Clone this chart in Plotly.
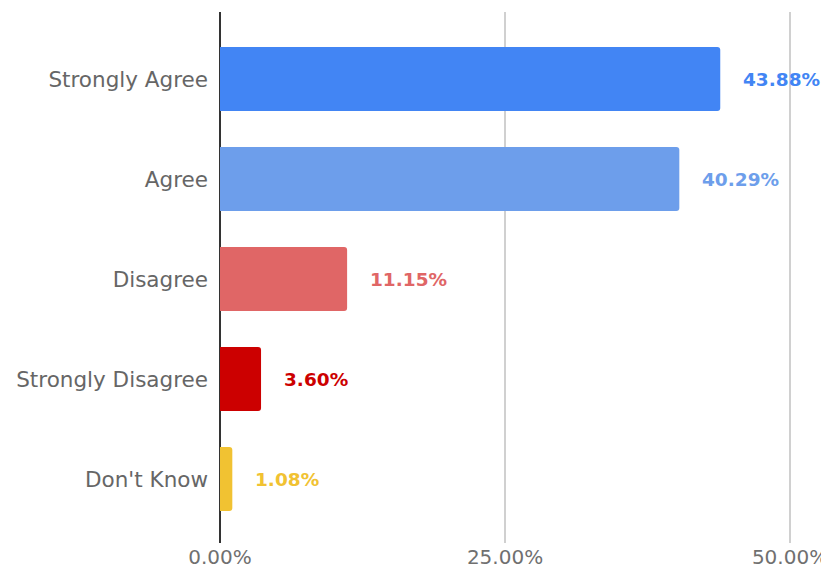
import plotly.graph_objects as go

categories = ["Strongly Agree", "Agree", "Disagree", "Strongly Disagree", "Don't Know"]
values = [43.88, 40.29, 11.15, 3.60, 1.08]
colors = ["#4285F4", "#6D9EEB", "#E06666", "#CC0000", "#F1C232"]
tick_vals = [0, 25, 50]
tick_text = ["0.00%", "25.00%", "50.00%"]

FONT = "DejaVu Sans"

fig = go.Figure()
fig.add_trace(go.Bar(
    x=values, y=categories, orientation="h",
    marker=dict(color=colors, cornerradius=3, line=dict(width=0)),
    width=0.64, hoverinfo="skip",
))

for c, v, col in zip(categories, values, colors):
    fig.add_annotation(x=v, y=c, text=f"<b>{v:.2f}%</b>", showarrow=False,
                       xanchor="left", xshift=21, font=dict(color=col, size=18.5, family=FONT))

# page body has an 8px margin, so the figure is sized/placed to compensate
fig.update_layout(
    width=821, height=566,
    margin=dict(l=212, r=9, t=4, b=31),
    paper_bgcolor="white", plot_bgcolor="white",
    showlegend=False,
    font=dict(family=FONT, size=20, color="#666666"),
    xaxis=dict(range=[0, 52.63], tickvals=tick_vals, ticktext=tick_text,
               showgrid=True, gridcolor="#D0D0D0", gridwidth=2,
               zeroline=True, zerolinecolor="#333333", zerolinewidth=2,
               showline=False, ticks="", automargin=False,
               ticklabeloverflow="allow",
               tickfont=dict(size=20, color="#707070", family=FONT)),
    yaxis=dict(categoryorder="array", categoryarray=categories,
               range=[4.64, -0.67], showgrid=False, zeroline=False, ticks="",
               automargin=False, ticklabelstandoff=11,
               tickfont=dict(size=21.5, color="#666666", family=FONT)),
)

fig.write_html("out.html")
